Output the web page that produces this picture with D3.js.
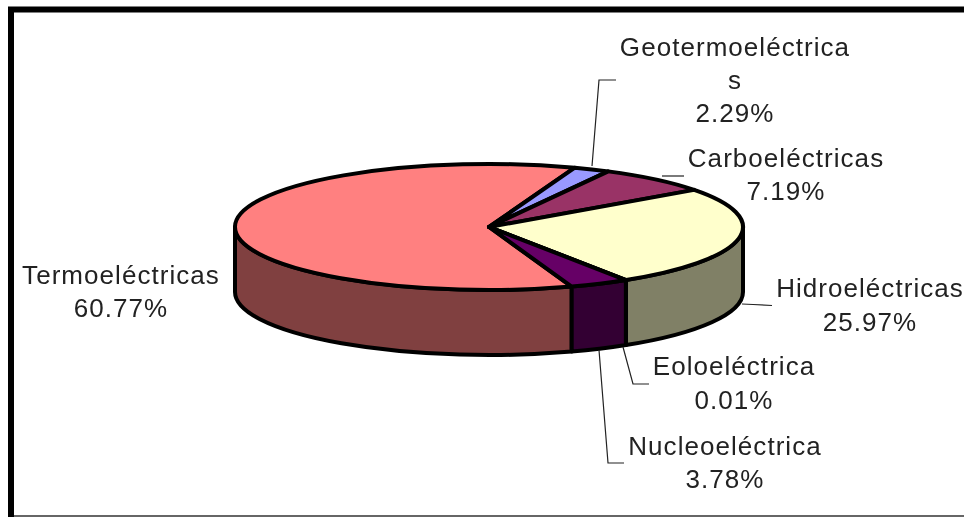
<!DOCTYPE html>
<html lang="es">
<head>
<meta charset="utf-8">
<script src="https://d3js.org/d3.v7.min.js"></script>
<style>
  html, body { margin: 0; background: #fff; }
  svg { display: block; filter: blur(0.4px); }
  text { font-family: "Liberation Sans", Arial, sans-serif; font-size: 26px; fill: #222; letter-spacing: 1.05px; }
</style>
<title>Generacion electrica</title>
</head>
<body>
<div id="chart"></div>
<script>
  // slices, clockwise, starting where Termoelectricas begins at the front
  const categories = ["Termoeléctricas", "Geotermoeléctricas", "Carboeléctricas", "Hidroeléctricas", "Eoloeléctrica", "Nucleoeléctrica"];
  const values = [60.77, 2.29, 7.19, 25.97, 0.01, 3.78];
  const valueLabels = ["60.77%", "2.29%", "7.19%", "25.97%", "0.01%", "3.78%"];
  const topColors = ["#ff8080", "#9999ff", "#993366", "#ffffcc", "#660066", "#660066"];
  const sideColors = ["#804040", "#4d4d80", "#4d1a33", "#808066", "#330033", "#330033"];

  const width = 964, height = 517;
  const cx = 489, cy = 227, rx = 254, ry = 63, depth = 65;
  const startAngle = 161 * Math.PI / 180;

  const svg = d3.select("#chart").append("svg")
      .attr("width", width)
      .attr("height", height);

  // frame: left and top heavy, thin grey line along the bottom
  svg.append("path")
      .attr("d", `M11,${height}V9.5H${width}`)
      .attr("fill", "none")
      .attr("stroke", "#000")
      .attr("stroke-width", 6);
  svg.append("line")
      .attr("x1", 14).attr("x2", width)
      .attr("y1", 516).attr("y2", 516)
      .attr("stroke", "#666")
      .attr("stroke-width", 2);

  const pie = d3.pie().sort(null).startAngle(startAngle).endAngle(startAngle + 2 * Math.PI);
  const slices = pie(values);

  const px = a => cx + rx * Math.sin(a);
  const py = a => cy - ry * Math.cos(a);

  // walls: only the front half of the rim shows
  const frontFrom = Math.PI / 2, frontTo = 3 * Math.PI / 2;
  function wallPath(a0, a1) {
    const t0 = Math.max(a0, frontFrom), t1 = Math.min(a1, frontTo);
    if (t1 <= t0) return null;
    return `M${px(t0)},${py(t0)}A${rx},${ry} 0 0 1 ${px(t1)},${py(t1)}` +
      `V${py(t1) + depth}A${rx},${ry} 0 0 0 ${px(t0)},${py(t0) + depth}Z`;
  }
  const wrap = a => a >= 2 * Math.PI ? a - 2 * Math.PI : a;

  const walls = svg.append("g");
  slices.forEach((s, i) => {
    const a0 = wrap(s.startAngle);
    const a1 = a0 + (s.endAngle - s.startAngle);
    const d = [wallPath(a0, a1), wallPath(a0 - 2 * Math.PI, a1 - 2 * Math.PI)].filter(Boolean);
    d.forEach(p => walls.append("path")
        .attr("d", p)
        .attr("fill", sideColors[i])
        .attr("stroke", "#000")
        .attr("stroke-width", 4)
        .attr("stroke-linejoin", "round"));
  });

  // top face is a plain d3 arc squashed into an ellipse
  const arc = d3.arc().innerRadius(0).outerRadius(rx);
  svg.append("g")
      .attr("transform", `translate(${cx},${cy}) scale(1,${ry / rx})`)
    .selectAll("path")
    .data(slices)
    .join("path")
      .attr("d", arc)
      .attr("fill", (d, i) => topColors[i])
      .attr("stroke", "#000")
      .attr("stroke-width", 4)
      .attr("stroke-linejoin", "round")
      .attr("vector-effect", "non-scaling-stroke");

  // leader lines
  const leaders = [
    [[592, 166], [599, 80], [616, 80]],
    [[662, 176], [684, 176]],
    [[742, 304], [753, 304.5], [772, 305.5]],
    [[623, 347], [633, 384], [649, 384]],
    [[599, 350], [608, 463], [624, 463]]
  ];
  const line = d3.line();
  svg.append("g").selectAll("path")
    .data(leaders)
    .join("path")
      .attr("d", line)
      .attr("fill", "none")
      .attr("stroke", "#222")
      .attr("stroke-width", 1.2);

  // label placement: centre x and baseline of each line
  const labels = [
    { lines: [categories[0], valueLabels[0]], x: 121, y: [284, 317] },
    { lines: ["Geotermoeléctrica", "s", valueLabels[1]], x: 735, y: [56, 89, 122] },
    { lines: [categories[2], valueLabels[2]], x: 786, y: [167, 200] },
    { lines: [categories[3], valueLabels[3]], x: 870, y: [297, 331] },
    { lines: [categories[4], valueLabels[4]], x: 734, y: [375, 409] },
    { lines: [categories[5], valueLabels[5]], x: 725, y: [455, 488] }
  ];
  labels.forEach(l => {
    l.lines.forEach((t, i) => {
      svg.append("text")
          .attr("x", l.x)
          .attr("y", l.y[i])
          .attr("text-anchor", "middle")
          .text(t);
    });
  });
</script>
</body>
</html>
